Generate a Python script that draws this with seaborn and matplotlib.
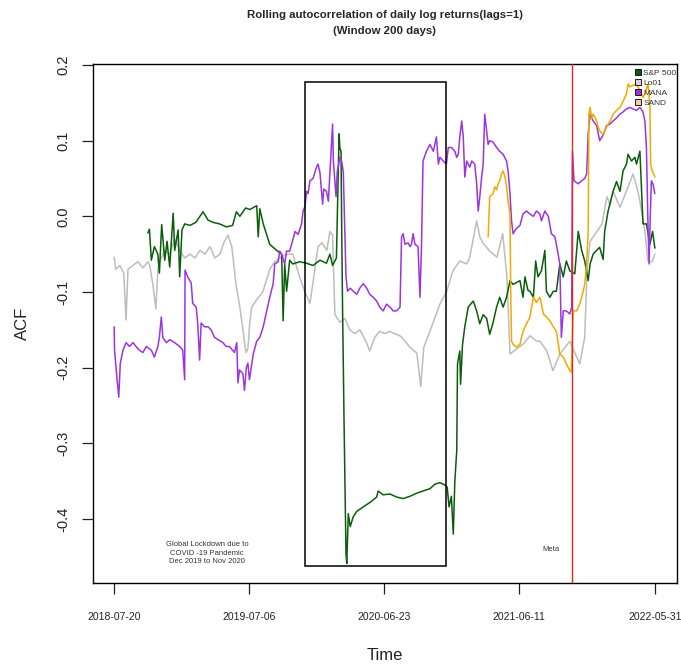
import matplotlib
matplotlib.use("Agg")
import matplotlib.pyplot as plt
import pandas as pd
import seaborn as sns
from matplotlib.patches import Rectangle, Patch

# ---------------------------------------------------------------------------
# Rolling lag-1 autocorrelation (200-day window) of daily log returns.
# Each series: (days since START, ACF value)
# ---------------------------------------------------------------------------
START = "2018-07-20"

tick_labels = ["2018-07-20", "2019-07-06", "2020-06-23", "2021-06-11", "2022-05-31"]
series_names = ["S&P 500", "Lo01", "MANA", "SAND"]
draw_order = ["Lo01", "S&P 500", "MANA", "SAND"]
line_colors = {"S&P 500": "#0b5d0b", "Lo01": "#bdbdbd", "MANA": "#9a35e0", "SAND": "#f2a900"}
legend_fill = {"S&P 500": "#0b5d0b", "Lo01": "#ddd0d4", "MANA": "#9a35e0", "SAND": "#ead0a8"}

sp500 = [
    (88, -0.022), (92, -0.017), (97, -0.058), (105, -0.04), (114, -0.05), (118, -0.075),
    (124, -0.011), (132, -0.058), (138, -0.033), (145, -0.067), (154, 0.004), (158, -0.045),
    (167, -0.018), (171, -0.08), (177, -0.018), (184, -0.01), (198, -0.012), (213, -0.008),
    (232, 0.006), (245, -0.005), (258, -0.008), (275, -0.01), (293, -0.014), (309, -0.012),
    (319, 0.006), (328, 0.0), (343, 0.011), (354, 0.009), (372, 0.014), (376, -0.027),
    (380, 0.01), (389, -0.01), (406, -0.037), (424, -0.045), (437, -0.05), (441, -0.138),
    (445, -0.063), (450, -0.099), (458, -0.058), (466, -0.063), (484, -0.06), (502, -0.062),
    (519, -0.065), (537, -0.058), (554, -0.062), (563, -0.05), (570, -0.065), (580, -0.055),
    (587, 0.109), (589, 0.09), (592, 0.086), (594, -0.027), (596, -0.12), (600, -0.274),
    (605, -0.446), (607, -0.459), (611, -0.393), (616, -0.41), (624, -0.397), (633, -0.39),
    (650, -0.384), (668, -0.378), (685, -0.371), (689, -0.363), (702, -0.368), (720, -0.367),
    (737, -0.371), (754, -0.373), (772, -0.37), (789, -0.366), (806, -0.363), (824, -0.36),
    (837, -0.354), (850, -0.352), (863, -0.355), (869, -0.358), (874, -0.384), (880, -0.37),
    (885, -0.42), (889, -0.35), (894, -0.31), (896, -0.195), (902, -0.178), (904, -0.222),
    (909, -0.17), (915, -0.146), (924, -0.12), (937, -0.112), (946, -0.125), (954, -0.142),
    (963, -0.13), (972, -0.135), (980, -0.156), (989, -0.14), (998, -0.12), (1006, -0.107),
    (1015, -0.12), (1024, -0.107), (1033, -0.085), (1041, -0.09), (1059, -0.085), (1067, -0.107),
    (1072, -0.08), (1080, -0.098), (1085, -0.099), (1094, -0.107), (1100, -0.059), (1106, -0.08),
    (1115, -0.072), (1124, -0.045), (1128, -0.099), (1137, -0.107), (1146, -0.099), (1154, -0.099),
    (1163, -0.063), (1172, -0.08), (1180, -0.059), (1189, -0.072), (1202, -0.076), (1211, -0.02),
    (1220, -0.045), (1228, -0.059), (1237, -0.085), (1242, -0.063), (1250, -0.05), (1259, -0.045),
    (1267, -0.041), (1276, -0.057), (1280, -0.02), (1289, 0.007), (1302, 0.033), (1311, 0.046),
    (1320, 0.033), (1328, 0.06), (1337, 0.069), (1341, 0.082), (1350, 0.073), (1359, 0.078),
    (1363, 0.069), (1372, 0.086), (1380, -0.01), (1389, -0.01), (1398, -0.037), (1405, -0.02),
    (1411, -0.042),
]

lo01 = [
    (0, -0.054), (4, -0.07), (15, -0.065), (25, -0.075), (31, -0.137), (36, -0.07),
    (49, -0.065), (62, -0.06), (75, -0.068), (88, -0.06), (93, -0.065), (101, -0.09),
    (109, -0.122), (114, -0.07), (119, -0.06), (132, -0.045), (145, -0.05), (158, -0.03),
    (171, -0.045), (184, -0.055), (198, -0.05), (211, -0.055), (224, -0.045), (237, -0.05),
    (250, -0.04), (263, -0.055), (276, -0.05), (286, -0.035), (297, -0.025), (307, -0.04),
    (318, -0.09), (328, -0.12), (336, -0.15), (344, -0.18), (349, -0.175), (354, -0.14),
    (359, -0.12), (372, -0.11), (388, -0.1), (406, -0.07), (419, -0.06), (432, -0.055),
    (451, -0.05), (466, -0.05), (484, -0.08), (498, -0.1), (511, -0.115), (521, -0.08),
    (532, -0.04), (542, -0.035), (555, -0.045), (563, -0.02), (570, -0.025), (576, -0.13),
    (589, -0.14), (602, -0.135), (615, -0.15), (628, -0.155), (641, -0.15), (657, -0.165),
    (667, -0.178), (680, -0.16), (693, -0.152), (706, -0.155), (719, -0.152), (732, -0.155),
    (746, -0.158), (759, -0.165), (772, -0.173), (790, -0.181), (800, -0.225), (808, -0.173),
    (824, -0.152), (850, -0.116), (868, -0.099), (884, -0.072), (902, -0.059), (920, -0.063),
    (928, -0.054), (946, -0.006), (954, -0.027), (962, -0.035), (980, -0.046), (999, -0.054),
    (1014, -0.023), (1025, -0.08), (1033, -0.182), (1051, -0.175), (1067, -0.169), (1085, -0.158),
    (1103, -0.165), (1111, -0.165), (1129, -0.178), (1145, -0.204), (1163, -0.182), (1189, -0.165),
    (1207, -0.186), (1215, -0.195), (1228, -0.16), (1234, -0.072), (1242, -0.033), (1260, -0.02),
    (1273, -0.01), (1286, 0.026), (1294, 0.015), (1302, 0.033), (1320, 0.012), (1338, 0.035),
    (1354, 0.056), (1364, 0.039), (1372, 0.02), (1385, -0.02), (1393, -0.059), (1404, -0.06),
    (1411, -0.05),
]

mana = [
    (0, -0.146), (1, -0.177), (7, -0.212), (12, -0.239), (16, -0.194), (23, -0.177),
    (31, -0.167), (40, -0.172), (49, -0.167), (57, -0.172), (66, -0.177), (75, -0.18),
    (84, -0.172), (97, -0.177), (105, -0.186), (114, -0.172), (118, -0.16), (123, -0.133),
    (127, -0.16), (136, -0.167), (145, -0.163), (158, -0.167), (171, -0.172), (179, -0.177),
    (184, -0.216), (185, -0.071), (192, -0.08), (201, -0.088), (205, -0.115), (214, -0.12),
    (218, -0.141), (223, -0.19), (227, -0.141), (236, -0.146), (245, -0.146), (253, -0.15),
    (262, -0.16), (271, -0.163), (284, -0.167), (292, -0.172), (301, -0.172), (314, -0.18),
    (320, -0.167), (323, -0.22), (327, -0.203), (336, -0.208), (340, -0.23), (345, -0.2),
    (349, -0.194), (353, -0.216), (359, -0.195), (363, -0.182), (372, -0.165), (380, -0.16),
    (389, -0.146), (398, -0.125), (406, -0.107), (415, -0.089), (419, -0.063), (428, -0.06),
    (432, -0.046), (437, -0.05), (445, -0.063), (450, -0.046), (458, -0.046), (463, -0.037),
    (472, -0.02), (480, -0.024), (489, -0.01), (493, 0.007), (498, 0.013), (502, 0.033),
    (506, 0.03), (511, 0.047), (519, 0.05), (528, 0.065), (532, 0.069), (537, 0.058),
    (544, 0.016), (547, 0.036), (554, 0.033), (559, 0.02), (563, 0.058), (570, 0.122),
    (572, 0.073), (579, 0.026), (582, 0.058), (589, 0.078), (594, 0.072), (598, 0.058),
    (605, -0.08), (609, -0.099), (616, -0.095), (624, -0.099), (633, -0.103), (641, -0.095),
    (650, -0.089), (659, -0.095), (667, -0.103), (676, -0.107), (685, -0.112), (693, -0.12),
    (702, -0.125), (711, -0.116), (720, -0.12), (728, -0.125), (737, -0.125), (746, -0.12),
    (750, -0.027), (754, -0.023), (759, -0.037), (767, -0.035), (772, -0.04), (776, -0.037),
    (780, -0.023), (785, -0.037), (793, -0.04), (798, -0.107), (802, -0.04), (806, 0.073),
    (815, 0.086), (824, 0.095), (833, 0.086), (841, 0.105), (846, 0.069), (850, 0.078),
    (859, 0.073), (867, 0.069), (872, 0.091), (880, 0.091), (889, 0.086), (894, 0.078),
    (898, 0.082), (902, 0.105), (907, 0.126), (911, 0.105), (915, 0.052), (920, 0.073),
    (924, 0.069), (928, 0.065), (933, 0.073), (941, 0.069), (946, 0.043), (950, 0.007),
    (954, 0.025), (959, 0.052), (963, 0.069), (967, 0.135), (972, 0.113), (976, 0.095),
    (980, 0.1), (989, 0.098), (998, 0.091), (1006, 0.086), (1015, 0.082), (1024, 0.073),
    (1028, 0.06), (1033, 0.03), (1037, -0.006), (1041, -0.023), (1050, -0.016), (1059, -0.012),
    (1067, 0.003), (1076, 0.007), (1085, 0.003), (1094, 0.0), (1102, 0.007), (1111, 0.003),
    (1115, -0.006), (1124, 0.007), (1133, 0.0), (1141, -0.023), (1150, -0.027), (1154, -0.037),
    (1163, -0.063), (1167, -0.16), (1172, -0.125), (1180, -0.125), (1189, -0.129), (1194, -0.12),
    (1196, 0.086), (1200, 0.047), (1211, 0.043), (1220, 0.047), (1228, 0.05), (1233, 0.056),
    (1237, 0.109), (1242, 0.135), (1246, 0.13), (1250, 0.126), (1259, 0.12), (1267, 0.1),
    (1276, 0.107), (1285, 0.12), (1294, 0.122), (1302, 0.126), (1311, 0.13), (1320, 0.135),
    (1328, 0.138), (1337, 0.142), (1346, 0.144), (1354, 0.142), (1363, 0.14), (1372, 0.144),
    (1380, 0.138), (1385, 0.126), (1389, 0.091), (1393, -0.01), (1396, -0.063), (1399, 0.0),
    (1402, 0.047), (1406, 0.043), (1411, 0.03),
]

sand = [
    (976, -0.027), (980, 0.026), (989, 0.03), (993, 0.039), (998, 0.035), (1002, 0.043),
    (1006, 0.047), (1011, 0.056), (1015, 0.06), (1020, 0.052), (1024, 0.039), (1028, 0.02),
    (1033, 0.003), (1035, -0.107), (1037, -0.165), (1041, -0.169), (1050, -0.173), (1059, -0.169),
    (1063, -0.16), (1067, -0.152), (1076, -0.142), (1085, -0.133), (1094, -0.107), (1102, -0.114),
    (1111, -0.107), (1115, -0.116), (1120, -0.129), (1128, -0.133), (1137, -0.138), (1146, -0.146),
    (1154, -0.152), (1163, -0.182), (1172, -0.186), (1180, -0.195), (1189, -0.204), (1193, -0.206),
    (1198, -0.125), (1207, -0.125), (1215, -0.116), (1220, -0.107), (1224, -0.099), (1228, -0.09),
    (1233, -0.063), (1237, -0.02), (1239, 0.135), (1242, 0.144), (1246, 0.13), (1250, 0.135),
    (1259, 0.126), (1263, 0.118), (1267, 0.113), (1276, 0.108), (1285, 0.118), (1294, 0.126),
    (1302, 0.135), (1311, 0.14), (1320, 0.144), (1328, 0.152), (1337, 0.162), (1341, 0.175),
    (1346, 0.171), (1354, 0.173), (1363, 0.175), (1372, 0.166), (1380, 0.157), (1385, 0.162),
    (1393, 0.175), (1398, 0.148), (1400, 0.069), (1404, 0.06), (1408, 0.056), (1411, 0.052),
]

# COVID lockdown window and the Facebook -> Meta rename date
lockdown_dates = ("2019-12-01", "2020-12-01")
lockdown_acf = (-0.462, 0.177)
lockdown_note = "Global Lockdown due to\nCOVID -19 Pandemic\nDec 2019 to Nov 2020"
lockdown_note_at = ("2019-03-20", -0.445)
meta_date = "2021-10-28"
meta_note_at = ("2021-09-03", -0.44)

# ---------------------------------------------------------------------------
sns.set_theme(style="ticks")
plt.rcParams["font.family"] = ["Liberation Sans", "DejaVu Sans"]

start = pd.Timestamp(START)
frames = []
for name, pts in zip(series_names, [sp500, lo01, mana, sand]):
    d = pd.DataFrame(pts, columns=["day", "acf"])
    d["series"] = name
    frames.append(d)
df = pd.concat(frames, ignore_index=True)
df["date"] = start + pd.to_timedelta(df["day"], unit="D")

fig = plt.figure(figsize=(6.81, 6.71), dpi=100)
ax = fig.add_axes([92.7 / 681, 1 - 583 / 671, 584 / 681, 519 / 671])

sns.lineplot(data=df, x="date", y="acf", hue="series", hue_order=draw_order,
             palette=line_colors, estimator=None, legend=False, linewidth=1.1, ax=ax)

# Lockdown box and Meta marker
x0, x1 = pd.Timestamp(lockdown_dates[0]), pd.Timestamp(lockdown_dates[1])
ax.add_patch(Rectangle((x0, lockdown_acf[0]), x1 - x0, lockdown_acf[1] - lockdown_acf[0],
                       fill=False, edgecolor="black", linewidth=1.1, zorder=5))
ax.axvline(pd.Timestamp(meta_date), color="#e02a2a", linewidth=1.0, zorder=5)

ax.text(pd.Timestamp(lockdown_note_at[0]), lockdown_note_at[1], lockdown_note,
        ha="center", va="center", fontsize=5.5, color="#333333", linespacing=1.35)
ax.text(pd.Timestamp(meta_note_at[0]), meta_note_at[1], "Meta",
        ha="center", va="center", fontsize=5.5, color="#333333")

# Axes, ticks and limits
ax.set_xlim(start - pd.Timedelta(days=56), start + pd.Timedelta(days=1468))
ax.set_ylim(-0.4846, 0.2013)
ax.set_xticks(pd.to_datetime(tick_labels))
ax.set_xticklabels(tick_labels)
yt = [-0.4, -0.3, -0.2, -0.1, 0.0, 0.1, 0.2]
ax.set_yticks(yt)
ax.set_yticklabels([f"{v:.1f}" for v in yt], rotation=90, va="center")
ax.tick_params(axis="y", length=8, width=0.9, pad=8, labelsize=10.5, colors="#222222",
               left=True, direction="out")
ax.tick_params(axis="x", length=8, width=0.9, pad=13, labelsize=7.5, colors="#222222",
               bottom=True, direction="out")
ax.set_xlabel("")
ax.set_ylabel("")
for sp in ax.spines.values():
    sp.set_visible(True)
    sp.set_color("black")
    sp.set_linewidth(1.0)

# Legend
handles = [Patch(facecolor=legend_fill[n], edgecolor="black", linewidth=0.6, label=n)
           for n in series_names]
leg = ax.legend(handles=handles, loc="upper left",
                bbox_to_anchor=((635 - 92.7) / 584, (583 - 69) / 519),
                frameon=False, fontsize=6, handlelength=0.7, handleheight=0.7,
                handletextpad=0.3, labelspacing=0.25, borderaxespad=0, borderpad=0)
for t in leg.get_texts():
    t.set_color("#333333")

# Titles and axis labels
cx = (92.7 + 676.7) / 2 / 681
fig.text(cx, 1 - 15 / 671, "Rolling autocorrelation of daily log returns(lags=1)",
         ha="center", va="center", fontsize=8.2, fontweight="bold")
fig.text(cx, 1 - 31 / 671, "(Window 200 days)",
         ha="center", va="center", fontsize=8.2, fontweight="bold")
fig.text(cx, 1 - 655 / 671, "Time", ha="center", va="center", fontsize=12, color="#222222")
fig.text(22 / 681, 1 - 323.5 / 671, "ACF", ha="center", va="center", rotation=90,
         fontsize=12, color="#222222")

fig.savefig("out.png", dpi=100)
